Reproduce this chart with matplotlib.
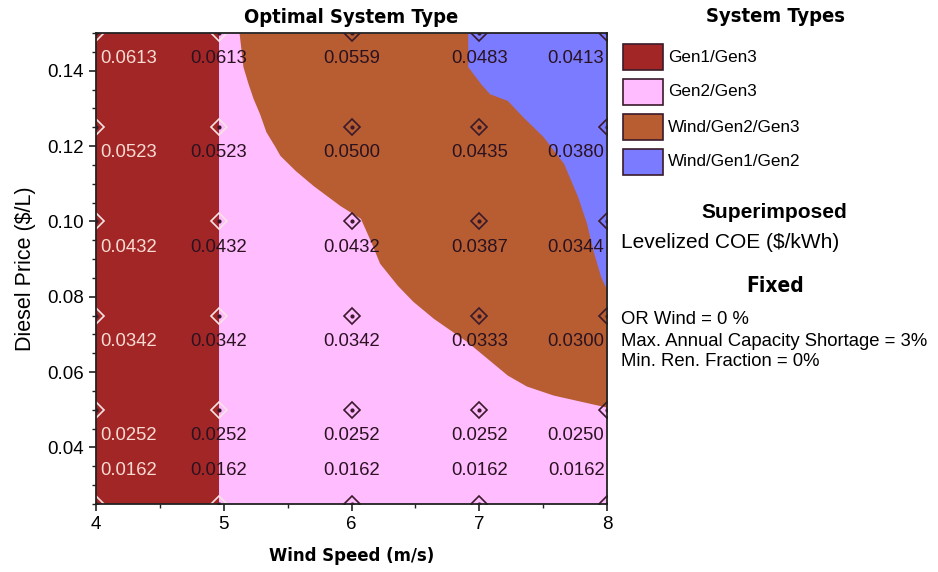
import numpy as np
import matplotlib.pyplot as plt
from matplotlib.patches import Rectangle
from matplotlib.ticker import MultipleLocator

# ── Data ──────────────────────────────────────────────────────────────────────
wind = [4.0, 4.96, 6.0, 7.0, 8.0]                  # sensitivity wind speeds (m/s)
diesel = [0.150, 0.125, 0.100, 0.075, 0.050, 0.025]  # diesel prices ($/L)
coe = [
    ["0.0613", "0.0613", "0.0559", "0.0483", "0.0413"],
    ["0.0523", "0.0523", "0.0500", "0.0435", "0.0380"],
    ["0.0432", "0.0432", "0.0432", "0.0387", "0.0344"],
    ["0.0342", "0.0342", "0.0342", "0.0333", "0.0300"],
    ["0.0252", "0.0252", "0.0252", "0.0252", "0.0250"],
    ["0.0162", "0.0162", "0.0162", "0.0162", "0.0162"],
]

# Gen1/Gen3 holds for wind below this speed
gen1_edge = 4.96

# lower-left edge of Wind/Gen2/Gen3 region (x at each diesel price)
brown_x = [5.12, 5.15, 5.19, 5.23, 5.28, 5.33, 5.40, 5.44, 5.56, 5.70, 5.91,
           6.07, 6.15, 6.22, 6.36, 6.48, 6.64, 6.75, 6.90, 7.06, 7.22, 7.37,
           7.58, 7.79, 8.00]
brown_y = [0.150, 0.1411, 0.1366, 0.1326, 0.1286, 0.1238, 0.1199, 0.1175,
           0.1135, 0.1095, 0.1042, 0.1008, 0.0947, 0.0889, 0.0830, 0.0788,
           0.0743, 0.0717, 0.0682, 0.0637, 0.0592, 0.0563, 0.0539, 0.0523,
           0.0507]

# left edge of Wind/Gen1/Gen2 region
blue_x = [6.91, 6.91, 7.01, 7.08, 7.22, 7.34, 7.50, 7.66, 7.77, 7.84, 7.89,
          7.95, 8.00]
blue_y = [0.150, 0.1411, 0.1366, 0.1339, 0.1321, 0.1278, 0.1225, 0.1154,
          0.1066, 0.0995, 0.0923, 0.0854, 0.0817]

types = ["Gen1/Gen3", "Gen2/Gen3", "Wind/Gen2/Gen3", "Wind/Gen1/Gen2"]
colors = ["#a32626", "#ffbcff", "#b85d32", "#7b7bff"]

fixed = ["OR Wind = 0 %",
         "Max. Annual Capacity Shortage = 3%",
         "Min. Ren. Fraction = 0%"]

# ── Figure ────────────────────────────────────────────────────────────────────
W, H = 938, 572
plt.rcParams["font.family"] = ["Liberation Sans", "DejaVu Sans"]
# heavy condensed headings (HOMER style)
head = dict(family=["DejaVu Sans"], fontstretch="condensed", fontweight="bold")

fig = plt.figure(figsize=(W / 100, H / 100), dpi=100)
ax = fig.add_axes([96 / W, 1 - 504 / H, 511 / W, 471 / H])

xmin, xmax = 4, 8
ymin, ymax = 0.025, 0.150

ax.fill_between([gen1_edge, xmax], ymin, ymax, color=colors[1], lw=0)
ax.fill_between([xmin, gen1_edge], ymin, ymax, color=colors[0], lw=0)
ax.fill_betweenx(brown_y, brown_x, xmax, color=colors[2], lw=0)
ax.fill_betweenx(blue_y, blue_x, xmax, color=colors[3], lw=0)

# grid markers and superimposed COE values
for i, y in enumerate(diesel):
    for j, x in enumerate(wind):
        light = j < 2
        mc = "#f6e4e4" if light else "#3a1a2a"
        ax.plot(x, y, marker="D", ms=8.5, mfc="none", mec=mc, mew=1.2)
        ax.plot(x, y, marker="o", ms=2, color="#3a1a2a")
        ly = y - 0.0068 if y > ymin else y + 0.0090
        ha = "left" if j == 0 else ("right" if j == len(wind) - 1 else "center")
        lx = x + 0.03 if j == 0 else (x - 0.02 if ha == "right" else x)
        tc = "#f8dcd4" if j == 0 else "#2a1220"
        ax.text(lx, ly, coe[i][j], ha=ha, va="center", fontsize=13.3, color=tc)

ax.set_xlim(xmin, xmax)
ax.set_ylim(ymin, ymax)
ax.set_xticks([4, 5, 6, 7, 8])
ax.set_yticks([0.04, 0.06, 0.08, 0.10, 0.12, 0.14])
ax.set_yticklabels(["0.04", "0.06", "0.08", "0.10", "0.12", "0.14"])
ax.xaxis.set_minor_locator(MultipleLocator(0.5))
ax.yaxis.set_minor_locator(MultipleLocator(0.005))
ax.tick_params(which="major", direction="out", length=5, width=1.2,
               labelsize=13.5, color="#222222")
ax.tick_params(which="minor", direction="out", length=3, width=1.0,
               color="#222222")
for s in ax.spines.values():
    s.set_linewidth(1.3)
    s.set_color("#222222")

ax.set_ylabel("Diesel Price ($/L)", fontsize=15.5, labelpad=8)
ax.set_xlabel("Wind Speed (m/s)", fontsize=13.2, labelpad=10, **head)
ax.set_title("Optimal System Type", fontsize=14.4, pad=7, **head)

# ── Right-hand key ────────────────────────────────────────────────────────────
def fx(px):
    return px / W

def fy(py):
    return 1 - py / H

fig.text(fx(775), fy(17), "System Types", ha="center", va="center",
         fontsize=14.5, **head)
for k, (name, c) in enumerate(zip(types, colors)):
    cy = 57 + k * 35
    fig.add_artist(Rectangle((fx(623), fy(cy + 13)), 40 / W, 26 / H,
                             transform=fig.transFigure, facecolor=c,
                             edgecolor="#3a1a2a", lw=1.2))
    fig.text(fx(668), fy(cy), name, ha="left", va="center", fontsize=12.3)

fig.text(fx(774), fy(212), "Superimposed", ha="center", va="center",
         fontsize=15, fontweight="bold")
fig.text(fx(621), fy(243), "Levelized COE ($/kWh)", ha="left", va="center",
         fontsize=15)
fig.text(fx(775), fy(286), "Fixed", ha="center", va="center",
         fontsize=15, **head)
for k, line in enumerate(fixed):
    fig.text(fx(621), fy(320 + k * 21), line, ha="left", va="center",
             fontsize=13.3)

plt.savefig("out.png", dpi=100)
